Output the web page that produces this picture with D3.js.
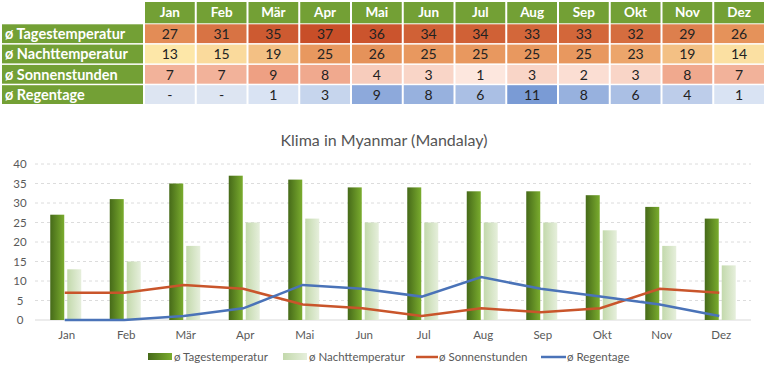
<!DOCTYPE html>
<html>
<head>
<meta charset="utf-8">
<script src="https://cdn.jsdelivr.net/npm/d3@7"></script>
<style>
  body { margin: 0; background: #fff; }
  svg text { font-family: Lato, "Open Sans", sans-serif; }
</style>
</head>
<body>
<div id="graph"></div>
<script>
var monate = ["Jan", "Feb", "Mär", "Apr", "Mai", "Jun", "Jul", "Aug", "Sep", "Okt", "Nov", "Dez"],
    tages = [27, 31, 35, 37, 36, 34, 34, 33, 33, 32, 29, 26],
    nacht = [13, 15, 19, 25, 26, 25, 25, 25, 25, 23, 19, 14],
    sonnen = [7, 7, 9, 8, 4, 3, 1, 3, 2, 3, 8, 7],
    regen = [null, null, 1, 3, 9, 8, 6, 11, 8, 6, 4, 1],
    yTicks = [0, 5, 10, 15, 20, 25, 30, 35, 40];

function dessinTableau(svg) {
    var x0 = 145, colW = 51.75, y0 = 2, rowH = 20.3,
        vert = "#73a035",
        couleurTemp = d3.scaleLinear().domain([13, 25, 37]).range(["#fde7a8", "#e8985f", "#c84e28"]),
        couleurSonne = d3.scaleLinear().domain([1, 9]).range(["#fde7de", "#eea083"]),
        couleurRegen = d3.scaleLinear().domain([1, 11]).range(["#d9e3f3", "#7a9bd5"]),
        lignes = [
            {libelle: "ø Tagestemperatur", valeurs: tages, couleur: couleurTemp},
            {libelle: "ø Nachttemperatur", valeurs: nacht, couleur: couleurTemp},
            {libelle: "ø Sonnenstunden", valeurs: sonnen, couleur: couleurSonne},
            {libelle: "ø Regentage", valeurs: regen, couleur: couleurRegen}
        ];

    var tete = svg.append("g");
    tete.selectAll("rect").data(monate).enter().append("rect")
        .attr("x", function (d, i) { return x0 + i * colW; })
        .attr("y", y0).attr("width", colW - 2).attr("height", rowH + 1)
        .attr("fill", vert);
    tete.selectAll("text").data(monate).enter().append("text")
        .attr("x", function (d, i) { return x0 + i * colW + (colW - 2) / 2; })
        .attr("y", y0 + rowH / 2 + 5)
        .attr("text-anchor", "middle")
        .style("font-size", "13.5px").style("font-weight", "bold").style("fill", "#fff")
        .text(function (d) { return d; });

    lignes.forEach(function (l, r) {
        var y = y0 + rowH + 2 + r * rowH,
            g = svg.append("g");
        g.append("rect").attr("x", 2).attr("y", y).attr("width", 141).attr("height", rowH - 1.5).attr("fill", vert);
        g.append("text").attr("x", 5).attr("y", y + rowH / 2 + 4.5)
            .style("font-size", "14.5px").style("font-weight", "bold").style("fill", "#fff")
            .text(l.libelle);
        g.selectAll("rect.cell").data(l.valeurs).enter().append("rect")
            .attr("class", "cell")
            .attr("x", function (d, i) { return x0 + i * colW; })
            .attr("y", y).attr("width", colW - 2).attr("height", rowH - 1.5)
            .attr("fill", function (d) { return d === null ? "#dde5f2" : l.couleur(d); });
        g.selectAll("text.val").data(l.valeurs).enter().append("text")
            .attr("class", "val")
            .attr("x", function (d, i) { return x0 + i * colW + (colW - 2) / 2; })
            .attr("y", y + rowH / 2 + 4.5)
            .attr("text-anchor", "middle")
            .style("font-size", "14px").style("fill", "#222")
            .text(function (d) { return d === null ? "-" : d; });
    });
}

function dessinGraphique(svg) {
    var x = d3.scaleBand().domain(monate).range([37, 751]),
        y = d3.scaleLinear().domain([0, 40]).range([320, 164]),
        barW = 14, gap = 3,
        couleurSonne = "#c9552b", couleurRegen = "#4a73b8",
        defs = svg.append("defs");

    var gf = defs.append("linearGradient").attr("id", "fonce");
    gf.append("stop").attr("offset", "0%").attr("stop-color", "#466a19");
    gf.append("stop").attr("offset", "100%").attr("stop-color", "#7aac2e");
    var gc = defs.append("linearGradient").attr("id", "clair");
    gc.append("stop").attr("offset", "0%").attr("stop-color", "#c3d9ac");
    gc.append("stop").attr("offset", "100%").attr("stop-color", "#e6efdc");

    svg.append("text")
        .attr("x", 384).attr("y", 146)
        .attr("text-anchor", "middle")
        .style("font-size", "16px").style("fill", "#555")
        .text("Klima in Myanmar (Mandalay)");

    // grille
    svg.append("g").selectAll("line").data(yTicks.slice(1)).enter().append("line")
        .attr("x1", 35).attr("x2", 751)
        .attr("y1", function (d) { return y(d); }).attr("y2", function (d) { return y(d); })
        .style("stroke", "#dcdcdc").style("stroke-dasharray", "3 3");
    svg.append("line").attr("x1", 35).attr("x2", 751).attr("y1", y(0)).attr("y2", y(0))
        .style("stroke", "#d9d9d9");

    svg.append("g").selectAll("text").data(yTicks).enter().append("text")
        .attr("x", 20).attr("y", function (d) { return y(d) + 4; })
        .attr("text-anchor", "middle")
        .style("font-size", "11.5px").style("fill", "#595959")
        .text(function (d) { return d; });

    svg.append("g").selectAll("text").data(monate).enter().append("text")
        .attr("x", function (d) { return x(d) + x.bandwidth() / 2; }).attr("y", 339)
        .attr("text-anchor", "middle")
        .style("font-size", "11.5px").style("fill", "#595959")
        .text(function (d) { return d; });

    svg.append("g").selectAll("rect").data(tages).enter().append("rect")
        .attr("x", function (d, i) { return x(monate[i]) + x.bandwidth() / 2 - barW - gap / 2 - 1; })
        .attr("y", function (d) { return y(d); })
        .attr("width", barW).attr("height", function (d) { return y(0) - y(d); })
        .attr("fill", "url(#fonce)");
    svg.append("g").selectAll("rect").data(nacht).enter().append("rect")
        .attr("x", function (d, i) { return x(monate[i]) + x.bandwidth() / 2 + gap / 2 - 1; })
        .attr("y", function (d) { return y(d); })
        .attr("width", barW).attr("height", function (d) { return y(0) - y(d); })
        .attr("fill", "url(#clair)");

    var ligne = function (serie) {
        return d3.line()
            .x(function (d, i) { return x(monate[i]) + x.bandwidth() / 2 - 2; })
            .y(function (d) { return y(d === null ? 0 : d); })(serie);
    };
    svg.append("path").attr("d", ligne(sonnen))
        .attr("fill", "none").attr("stroke", couleurSonne).attr("stroke-width", 2.5);
    svg.append("path").attr("d", ligne(regen))
        .attr("fill", "none").attr("stroke", couleurRegen).attr("stroke-width", 2.5);

    // légende
    var leg = svg.append("g").style("font-size", "11.5px");
    leg.append("rect").attr("x", 148).attr("y", 353).attr("width", 24).attr("height", 7).attr("fill", "url(#fonce)");
    leg.append("text").attr("x", 174).attr("y", 361).style("fill", "#595959").text("ø Tagestemperatur");
    leg.append("rect").attr("x", 283).attr("y", 353).attr("width", 24).attr("height", 7).attr("fill", "url(#clair)");
    leg.append("text").attr("x", 309).attr("y", 361).style("fill", "#595959").text("ø Nachttemperatur");
    leg.append("line").attr("x1", 416).attr("x2", 438).attr("y1", 357).attr("y2", 357)
        .attr("stroke", couleurSonne).attr("stroke-width", 2.5);
    leg.append("text").attr("x", 439).attr("y", 361).style("fill", "#595959").text("ø Sonnenstunden");
    leg.append("line").attr("x1", 541).attr("x2", 566).attr("y1", 357).attr("y2", 357)
        .attr("stroke", couleurRegen).attr("stroke-width", 2.5);
    leg.append("text").attr("x", 567).attr("y", 361).style("fill", "#595959").text("ø Regentage");
}

var svg = d3.select("#graph").append("svg").attr("width", 768).attr("height", 369);
dessinTableau(svg);
dessinGraphique(svg);
</script>
</body>
</html>
